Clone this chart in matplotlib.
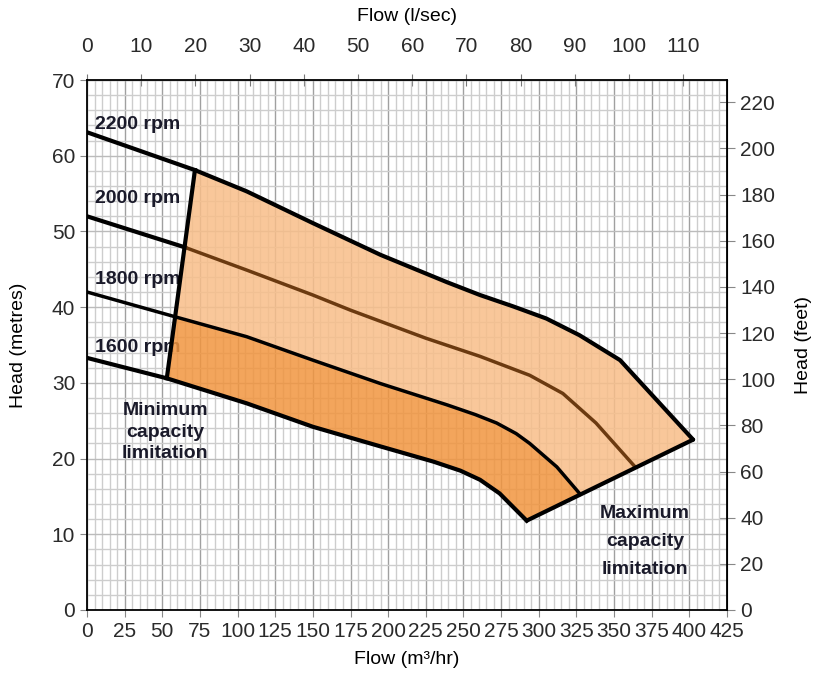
import numpy as np
import matplotlib.pyplot as plt
from matplotlib.ticker import MultipleLocator

# pump curves: flow (m3/hr), head (m)
q2200 = [0, 71.7, 106, 150, 195, 239, 261, 283, 305, 327, 354, 372, 402.5]
h2200 = [63.1, 58.1, 55.3, 51.1, 46.9, 43.3, 41.6, 40.1, 38.5, 36.3, 33.0, 29.1, 22.5]
q2000 = [0, 65, 106, 150, 175, 225, 261, 294, 316, 338, 364]
h2000 = [52.0, 47.9, 44.9, 41.6, 39.6, 35.9, 33.5, 31.0, 28.6, 24.7, 18.9]
q1800 = [0, 59, 106, 150, 195, 239, 258, 272, 285, 294, 312, 327.5]
h1800 = [42.0, 38.7, 36.1, 33.0, 29.9, 27.1, 25.8, 24.7, 23.3, 22.0, 18.9, 15.3]
q1600 = [0, 53, 106, 150, 195, 230, 248, 261, 274, 292]
h1600 = [33.3, 30.6, 27.3, 24.2, 21.6, 19.6, 18.4, 17.2, 15.4, 11.8]

speeds = ['2200 rpm', '2000 rpm', '1800 rpm', '1600 rpm']
label_h = [64.1, 54.3, 43.6, 34.7]

plt.rcParams['font.family'] = ['Liberation Sans', 'DejaVu Sans']
txt = '#1a1a2a'
tick_txt = '#2a2a2a'

fig = plt.figure(figsize=(8.16, 6.78), dpi=100)
ax = fig.add_axes([0.1066, 0.1003, 0.7843, 0.7817])

ax.set_xlim(0, 425)
ax.set_ylim(0, 70)

# grid
ax.xaxis.set_major_locator(MultipleLocator(25))
ax.xaxis.set_minor_locator(MultipleLocator(5))
ax.yaxis.set_major_locator(MultipleLocator(10))
ax.yaxis.set_minor_locator(MultipleLocator(2))
ax.grid(which='minor', color='#cdcdcd', lw=1.0)
ax.grid(which='major', axis='x', color='#a0a0a0', lw=1.0)
ax.grid(which='major', axis='y', color='#bbbbbb', lw=1.0)
ax.tick_params(which='minor', length=0)
ax.set_axisbelow(True)

# operating region fills (slightly see-through so the grid shows)
light_q = list(q2200[1:]) + list(q1800[:0:-1])
light_h = list(h2200[1:]) + list(h1800[:0:-1])
ax.fill(light_q, light_h, color='#f8be89', alpha=0.85, zorder=3, lw=0)
dark_q = list(q1800[1:]) + list(q1600[:0:-1])
dark_h = list(h1800[1:]) + list(h1600[:0:-1])
ax.fill(dark_q, dark_h, color='#f1953f', alpha=0.85, zorder=3, lw=0)

# curves
ax.plot(q2200, h2200, color='black', lw=3, zorder=5, solid_capstyle='round')
ax.plot(q2000[:2], h2000[:2], color='black', lw=3, zorder=5)
ax.plot(q2000[1:], h2000[1:], color='#6b3a10', lw=2.5, zorder=5)
ax.plot(q1800, h1800, color='black', lw=2.5, zorder=5)
ax.plot(q1600, h1600, color='black', lw=3, zorder=5)
# min and max capacity lines
ax.plot([q1600[1], q2200[1]], [h1600[1], h2200[1]], color='black', lw=3, zorder=5)
ax.plot([q1600[-1], q2200[-1]], [h1600[-1], h2200[-1]], color='black', lw=3,
        zorder=5, solid_capstyle='round')

for s, y in zip(speeds, label_h):
    ax.text(5.3, y, s, fontsize=14, fontweight='bold', color=txt,
            va='center', ha='left', zorder=2)

ax.text(52, 23.5, 'Minimum\ncapacity\nlimitation', fontsize=14, fontweight='bold',
        color=txt, ha='center', va='center', linespacing=1.33, zorder=6)
ax.text(370.5, 9.1, 'Maximum\ncapacity\nlimitation', fontsize=14, fontweight='bold',
        color=txt, ha='center', va='center', linespacing=1.85, zorder=6)

for sp in ax.spines.values():
    sp.set_linewidth(1.3)
    sp.set_zorder(7)

ax.tick_params(axis='both', which='major', direction='out', length=5,
               color='#888888', labelcolor=tick_txt, labelsize=15)
ax.tick_params(axis='x', pad=4)

ax.set_xlabel('Flow (m³/hr)', fontsize=14, labelpad=7)
ax.set_ylabel('Head (metres)', fontsize=14, labelpad=18)

top = ax.secondary_xaxis('top', functions=(lambda q: q / 3.6, lambda l: l * 3.6))
top.set_xticks(np.arange(0, 111, 10))
top.tick_params(direction='inout', length=8, color='#777777', labelcolor=tick_txt,
                labelsize=15, pad=13)
top.set_xlabel('Flow (l/sec)', fontsize=14, labelpad=12)

right = ax.secondary_yaxis('right', functions=(lambda m: m * 3.28084, lambda f: f / 3.28084))
right.set_yticks(np.arange(0, 221, 20))
right.tick_params(direction='inout', length=12, color='#888888', labelcolor=tick_txt,
                  labelsize=15)
right.set_ylabel('Head (feet)', fontsize=14, labelpad=14)

fig.savefig('out.png', dpi=100)
